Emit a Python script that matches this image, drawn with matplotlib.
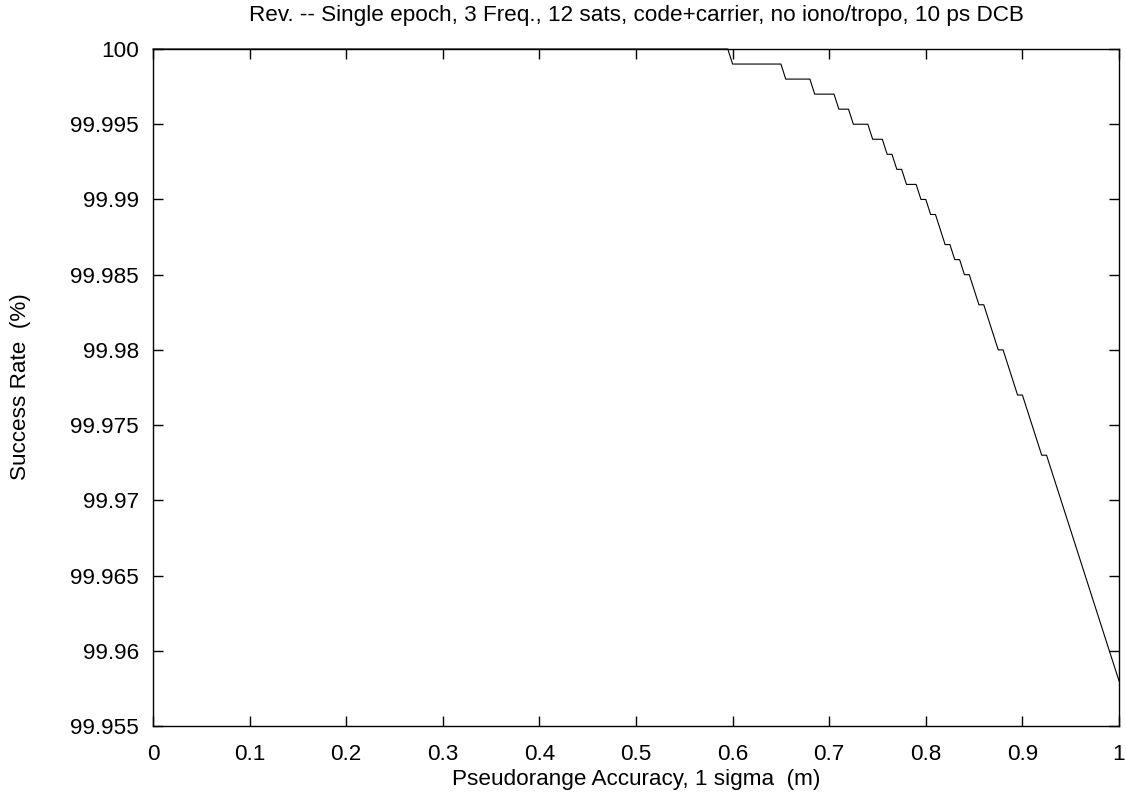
import matplotlib
matplotlib.use("Agg")
import matplotlib.pyplot as plt

plt.rcParams['font.family'] = ['Liberation Sans', 'DejaVu Sans']

sigma = [0.0, 0.595, 0.600, 0.650, 0.655, 0.680, 0.685, 0.705, 0.710, 0.720,
         0.725, 0.740, 0.745, 0.755, 0.760, 0.765, 0.770, 0.775, 0.780, 0.790,
         0.795, 0.800, 0.805, 0.810, 0.820, 0.825, 0.830, 0.835, 0.840, 0.845,
         0.855, 0.860, 0.875, 0.880, 0.895, 0.900, 0.920, 0.925, 1.000]
success = [100.0, 100.0, 99.999, 99.999, 99.998, 99.998, 99.997, 99.997, 99.996, 99.996,
           99.995, 99.995, 99.994, 99.994, 99.993, 99.993, 99.992, 99.992, 99.991, 99.991,
           99.990, 99.990, 99.989, 99.989, 99.987, 99.987, 99.986, 99.986, 99.985, 99.985,
           99.983, 99.983, 99.980, 99.980, 99.977, 99.977, 99.973, 99.973, 99.958]

xticks = [0, 0.1, 0.2, 0.3, 0.4, 0.5, 0.6, 0.7, 0.8, 0.9, 1]
xticklabels = ['0', '0.1', '0.2', '0.3', '0.4', '0.5', '0.6', '0.7', '0.8', '0.9', '1']
yticks = [99.955, 99.96, 99.965, 99.97, 99.975, 99.98, 99.985, 99.99, 99.995, 100]
yticklabels = ['99.955', '99.96', '99.965', '99.97', '99.975', '99.98', '99.985',
               '99.99', '99.995', '100']

fig = plt.figure(figsize=(11.26, 7.97), dpi=100)
ax = fig.add_axes([153/1126, 1 - 726/797, 966/1126, 677/797])

ax.plot(sigma, success, color='black', lw=0.8, clip_on=False)

ax.set_xlim(0, 1)
ax.set_ylim(99.955, 100)
ax.set_xticks(xticks)
ax.set_xticklabels(xticklabels)
ax.set_yticks(yticks)
ax.set_yticklabels(yticklabels)
ax.tick_params(direction='in', length=7, width=1, labelsize=16.2,
               top=True, right=True, colors='black')
ax.tick_params(axis='x', pad=13)
ax.tick_params(axis='y', pad=10)
for s in ax.spines.values():
    s.set_linewidth(1)

fig.text(636/1126, 1 - 15/797, 'Rev. -- Single epoch, 3 Freq., 12 sats, code+carrier, no iono/tropo, 10 ps DCB',
         ha='center', va='center', fontsize=16.2)
fig.text(636/1126, 1 - 779/797, 'Pseudorange Accuracy, 1 sigma  (m)',
         ha='center', va='center', fontsize=16.2)
fig.text(21/1126, 1 - 387/797, 'Success Rate  (%)', rotation=90,
         ha='center', va='center', fontsize=16.2)

fig.savefig('out.png', dpi=100)
